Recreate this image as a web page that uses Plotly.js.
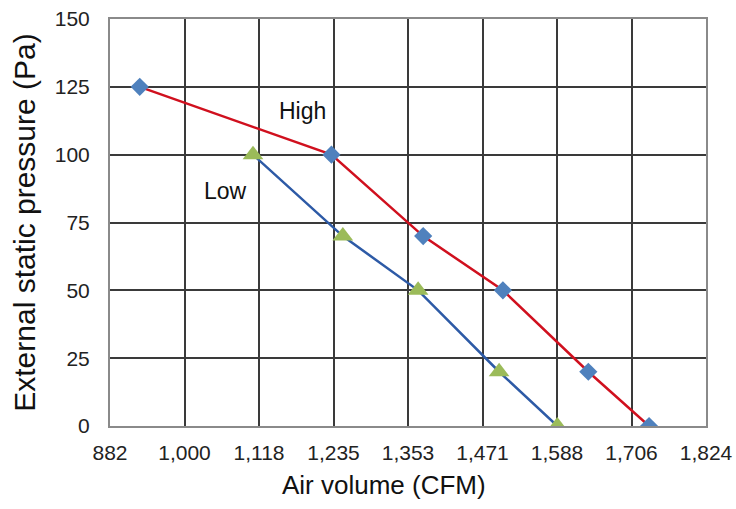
<!DOCTYPE html>
<html>
<head>
<meta charset="utf-8">
<script src="https://cdn.plot.ly/plotly-3.0.1.min.js"></script>
<style>html,body{margin:0;padding:0;background:#fff;}#chart{width:736px;height:509px;}</style>
</head>
<body>
<div id="chart"></div>
<script>
// Data (CFM vs Pa)
const highX = [929, 1232, 1377, 1503, 1638, 1734];
const highY = [125, 100, 70, 50, 20, 0];
const lowX = [1108, 1250, 1369, 1497, 1589];
const lowY = [100, 70, 50, 20, 0];
const xTickVals = [882, 999.75, 1117.5, 1235.25, 1353, 1470.75, 1588.5, 1706.25, 1824];
const xTickText = ['882', '1,000', '1,118', '1,235', '1,353', '1,471', '1,588', '1,706', '1,824'];
const yTickVals = [0, 25, 50, 75, 100, 125, 150];
const seriesNames = ['High', 'Low'];
const xTitle = 'Air volume (CFM)';
const yTitle = 'External static pressure (Pa)';

const font = 'Liberation Sans, Arial, sans-serif';

const traces = [
  {
    x: highX, y: highY, name: seriesNames[0], type: 'scatter', mode: 'lines+markers',
    line: {color: '#D0101E', width: 2.5},
    marker: {symbol: 'diamond', size: 14, color: '#4F81BD'}
  },
  {
    x: lowX, y: lowY, name: seriesNames[1], type: 'scatter', mode: 'lines+markers',
    line: {color: '#2D5AA6', width: 2.5},
    marker: {symbol: 'triangle-up', size: 18, color: '#9BBB59'}
  }
];

const layout = {
  width: 736, height: 509,
  margin: {l: 110, r: 30, t: 19, b: 83},
  paper_bgcolor: '#fff', plot_bgcolor: '#fff',
  showlegend: false,
  font: {family: font, color: '#000'},
  xaxis: {
    range: [882, 1824], tickvals: xTickVals, ticktext: xTickText,
    showgrid: true, gridcolor: '#3a3a3a', gridwidth: 2,
    showline: true, linecolor: '#8a8a8a', linewidth: 2, mirror: true,
    zeroline: false, ticks: '', ticklabelstandoff: 7,
    tickfont: {size: 21, family: font, color: '#222'}
  },
  yaxis: {
    range: [0, 150], tickvals: yTickVals,
    showgrid: true, gridcolor: '#3a3a3a', gridwidth: 2,
    showline: true, linecolor: '#8a8a8a', linewidth: 2, mirror: true,
    zeroline: false, ticks: '', ticklabelstandoff: 14,
    tickfont: {size: 21, family: font, color: '#222'},
    title: {text: yTitle, font: {size: 30, family: font, color: '#111'}, standoff: 10}
  },
  annotations: [
    {x: 0.46, y: -0.145, xref: 'paper', yref: 'paper', text: xTitle, showarrow: false,
     xanchor: 'center', yanchor: 'middle',
     font: {size: 26, family: font, color: '#111'}},
    {x: 1186.7, y: 116.1, xref: 'x', yref: 'y', text: 'High', showarrow: false,
     font: {size: 23, family: font, color: '#111'}},
    {x: 1064.8, y: 86.6, xref: 'x', yref: 'y', text: 'Low', showarrow: false,
     font: {size: 23, family: font, color: '#111'}}
  ]
};

Plotly.newPlot('chart', traces, layout, {displayModeBar: false, staticPlot: true});
</script>
</body>
</html>
